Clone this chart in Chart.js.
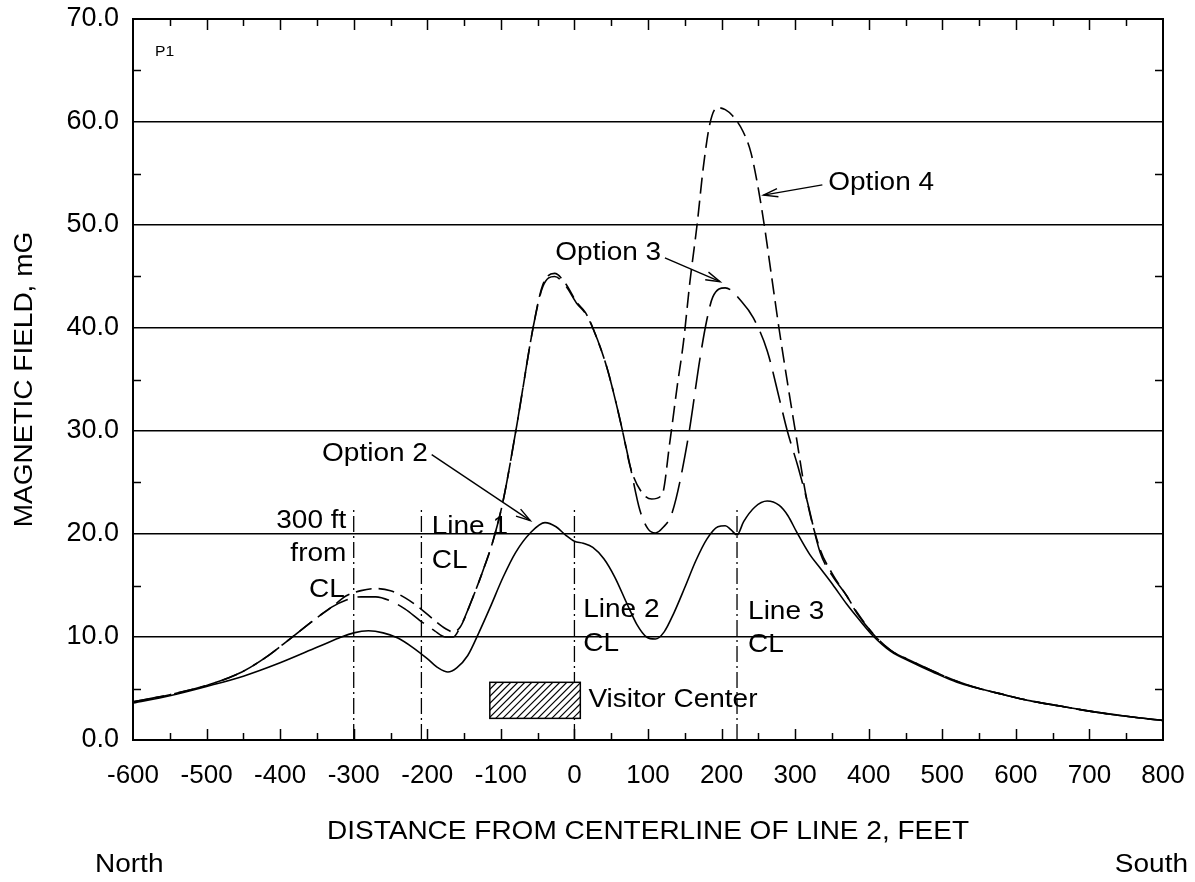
<!DOCTYPE html>
<html>
<head>
<meta charset="utf-8">
<title>Magnetic field profile P1</title>
<script src="https://cdn.jsdelivr.net/npm/chart.js@4.4.1/dist/chart.umd.min.js"></script>
<style>
  body { margin: 0; background: #fff; }
  #wrap { width: 1195px; height: 882px; position: relative; }
</style>
</head>
<body>
<div id="wrap"><canvas id="magChart"></canvas></div>
<script>
// distance from centerline of line 2 (ft) and field (mG)
const option2X = [-600, -550, -500, -450, -400, -350, -320, -300, -280, -260, -240, -220, -200, -185, -172, -160, -145, -130, -115, -97, -80, -60, -40, -25, -12, 0, 12, 25, 40, 55, 71, 85, 98, 110, 122, 135, 150, 165, 180, 195, 205, 213, 221, 230, 245, 262, 278, 290, 302, 320, 335, 351, 370, 388, 406, 430, 460, 487, 520, 550, 578, 620, 660, 700, 750, 800];
const option2Y = [3.6, 4.3, 5.2, 6.2, 7.5, 9.0, 9.9, 10.4, 10.6, 10.4, 9.9, 9.0, 7.9, 7.0, 6.6, 7.0, 8.2, 10.4, 12.8, 15.8, 18.2, 20.1, 21.1, 20.7, 19.9, 19.3, 19.1, 18.7, 17.6, 15.8, 13.3, 11.2, 10.0, 9.8, 10.5, 12.3, 14.8, 17.4, 19.5, 20.7, 20.8, 20.4, 19.9, 21.2, 22.6, 23.2, 22.8, 21.8, 20.2, 18.0, 16.6, 15.1, 13.2, 11.6, 10.1, 8.6, 7.5, 6.6, 5.6, 5.0, 4.5, 3.8, 3.3, 2.8, 2.3, 1.9];

const option3X = [-600, -550, -500, -455, -420, -387, -355, -330, -310, -290, -270, -250, -230, -210, -190, -175, -165, -155, -140, -124, -110, -97, -78, -56, -43, -27, -12, 3, 15, 25, 44, 58, 66, 76, 89, 100, 110, 120, 133, 154, 171, 180, 188, 205, 228, 243, 262, 279, 289, 304, 316, 334, 350, 370, 384, 406, 430, 460, 487, 520, 550, 578, 620, 660, 700, 750, 800];
const option3Y = [3.7, 4.4, 5.3, 6.5, 8.0, 9.8, 11.6, 12.9, 13.6, 13.9, 13.9, 13.5, 12.7, 11.6, 10.6, 10.0, 10.0, 11.0, 13.5, 16.5, 19.5, 23.2, 30.7, 40.1, 44.0, 45.0, 44.1, 42.4, 41.4, 40.0, 36.2, 32.3, 29.8, 26.5, 22.3, 20.5, 20.1, 20.6, 22.1, 29.1, 37.2, 40.8, 43.0, 43.9, 42.5, 41.0, 37.8, 33.0, 30.1, 26.5, 23.3, 18.2, 16.0, 14.0, 12.3, 10.3, 8.7, 7.6, 6.7, 5.7, 5.0, 4.5, 3.8, 3.3, 2.8, 2.3, 1.9];

const option4X = [-600, -550, -500, -455, -420, -387, -355, -330, -310, -290, -270, -250, -230, -210, -190, -175, -165, -155, -140, -124, -110, -97, -78, -56, -43, -27, -12, 3, 15, 25, 44, 58, 66, 76, 90, 105, 119, 130, 140, 148, 157, 167, 175, 184, 194, 205, 215, 229, 240, 250, 258, 268, 278, 290, 300, 316, 334, 350, 370, 384, 406, 430, 460, 487, 520, 550, 578, 620, 660, 700, 750, 800];
const option4Y = [3.7, 4.4, 5.3, 6.5, 8.0, 9.8, 11.6, 12.9, 14.0, 14.5, 14.7, 14.5, 13.8, 12.8, 11.6, 10.8, 10.5, 11.0, 13.5, 16.5, 19.5, 23.2, 30.7, 40.1, 44.2, 45.3, 44.3, 42.5, 41.5, 40.0, 36.2, 32.3, 29.8, 26.5, 24.2, 23.4, 23.8, 29.1, 34.5, 38.5, 44.5, 50.2, 55.5, 59.8, 61.4, 61.2, 60.6, 59.1, 57.0, 53.5, 50.0, 45.0, 40.0, 34.5, 30.1, 23.3, 18.5, 16.2, 14.0, 12.4, 10.3, 8.7, 7.6, 6.7, 5.7, 5.0, 4.5, 3.8, 3.3, 2.8, 2.3, 1.9];

// centerline markers (ft) and the height they reach (mG)
const centerlineX = [-300, -208, 0, 221];
const centerlineTop = 22.5;

// visitor center footprint
const visitorX = [-115, 8];
const visitorY = [2.1, 5.6];

const xTickLabels = ['-600', '-500', '-400', '-300', '-200', '-100', '0', '100', '200', '300', '400', '500', '600', '700', '800'];
const yTickLabels = ['0.0', '10.0', '20.0', '30.0', '40.0', '50.0', '60.0', '70.0'];

const FONT = '"Liberation Sans", Arial, sans-serif';
const STRETCH = 1.12; // original lettering is a bit wider than Liberation Sans

// text notes placed in data units
const notes = [
  { text: 'P1', x: -570, y: 66.8, size: 14 },
  { text: 'Option 2', x: -343, y: 27.8 },
  { text: 'Option 3', x: -26, y: 47.3 },
  { text: 'Option 4', x: 345, y: 54.1 },
  { text: '300 ft', x: -310, y: 21.3, align: 'right' },
  { text: 'from', x: -310, y: 18.0, align: 'right' },
  { text: 'CL', x: -312, y: 14.6, align: 'right' },
  { text: 'Line 1', x: -194, y: 20.7 },
  { text: 'CL', x: -194, y: 17.4 },
  { text: 'Line 2', x: 12, y: 12.6 },
  { text: 'CL', x: 12, y: 9.3 },
  { text: 'Line 3', x: 236, y: 12.4 },
  { text: 'CL', x: 236, y: 9.2 },
  { text: 'Visitor Center', x: 19, y: 3.9 }
];

const arrows = [
  { from: [-194, 27.7], to: [-60, 21.3] },
  { from: [123, 46.8], to: [198, 44.5] },
  { from: [337, 53.9], to: [257, 52.9] }
];

function toPoints(xs, ys) {
  return xs.map((x, i) => ({ x: x, y: ys[i] }));
}

function drawArrow(ctx, x1, y1, x2, y2) {
  const ang = Math.atan2(y2 - y1, x2 - x1);
  const len = 15, spread = 0.28;
  ctx.beginPath();
  ctx.moveTo(x1, y1);
  ctx.lineTo(x2, y2);
  ctx.stroke();
  ctx.beginPath();
  ctx.moveTo(x2 - len * Math.cos(ang - spread), y2 - len * Math.sin(ang - spread));
  ctx.lineTo(x2, y2);
  ctx.lineTo(x2 - len * Math.cos(ang + spread), y2 - len * Math.sin(ang + spread));
  ctx.stroke();
}

function drawText(ctx, text, x, y, align, rotate) {
  ctx.save();
  ctx.translate(x, y);
  if (rotate) ctx.rotate(rotate);
  ctx.scale(STRETCH, 1);
  ctx.textAlign = align || 'left';
  ctx.fillText(text, 0, 0);
  ctx.restore();
}

// drop the label overflow padding so layout.padding alone sets the plot edges
function noOverflow(scale) {
  scale.paddingTop = 0;
  scale.paddingBottom = 0;
  scale.paddingLeft = 0;
  scale.paddingRight = 0;
}

const decorPlugin = {
  id: 'decor',
  afterDatasetsDraw(chart) {
    const ctx = chart.ctx;
    const xs = chart.scales.x, ys = chart.scales.y;
    const area = chart.chartArea;
    ctx.save();
    ctx.strokeStyle = '#000';
    ctx.fillStyle = '#000';

    // visitor center box with hatching
    const bx1 = xs.getPixelForValue(visitorX[0]), bx2 = xs.getPixelForValue(visitorX[1]);
    const by1 = ys.getPixelForValue(visitorY[1]), by2 = ys.getPixelForValue(visitorY[0]);
    ctx.fillStyle = '#fff';
    ctx.fillRect(bx1, by1, bx2 - bx1, by2 - by1);
    ctx.save();
    ctx.beginPath();
    ctx.rect(bx1, by1, bx2 - bx1, by2 - by1);
    ctx.clip();
    ctx.lineWidth = 1.2;
    for (let s = bx1 - (by2 - by1); s < bx2 + 4; s += 7) {
      ctx.beginPath();
      ctx.moveTo(s, by2);
      ctx.lineTo(s + (by2 - by1), by1);
      ctx.stroke();
    }
    ctx.restore();
    ctx.lineWidth = 1.5;
    ctx.strokeRect(bx1, by1, bx2 - bx1, by2 - by1);

    // arrows
    ctx.lineWidth = 1.4;
    arrows.forEach(a => {
      drawArrow(ctx, xs.getPixelForValue(a.from[0]), ys.getPixelForValue(a.from[1]),
        xs.getPixelForValue(a.to[0]), ys.getPixelForValue(a.to[1]));
    });

    // notes
    ctx.fillStyle = '#000';
    ctx.textBaseline = 'middle';
    notes.forEach(n => {
      ctx.font = (n.size || 25) + 'px ' + FONT;
      drawText(ctx, n.text, xs.getPixelForValue(n.x), ys.getPixelForValue(n.y), n.align);
    });

    // inward tick marks on all four sides
    ctx.lineWidth = 1.5;
    ctx.beginPath();
    for (let v = -550; v < 800; v += 50) {
      const px = Math.round(xs.getPixelForValue(v)) + 0.5;
      const len = v % 100 === 0 ? 11 : 7;
      ctx.moveTo(px, area.bottom); ctx.lineTo(px, area.bottom - len);
      ctx.moveTo(px, area.top); ctx.lineTo(px, area.top + len);
    }
    for (let v = 5; v < 70; v += 10) {
      const py = Math.round(ys.getPixelForValue(v)) + 0.5;
      ctx.moveTo(area.left, py); ctx.lineTo(area.left + 8, py);
      ctx.moveTo(area.right, py); ctx.lineTo(area.right - 8, py);
    }
    ctx.stroke();

    // frame
    ctx.lineWidth = 2;
    ctx.strokeRect(area.left, area.top, area.right - area.left, area.bottom - area.top);

    // axis titles and direction words
    ctx.font = '25px ' + FONT;
    drawText(ctx, 'DISTANCE FROM CENTERLINE OF LINE 2, FEET', (area.left + area.right) / 2, 832, 'center');
    drawText(ctx, 'North', 95, 865, 'left');
    drawText(ctx, 'South', 1188, 865, 'right');
    drawText(ctx, 'MAGNETIC FIELD, mG', 25, (area.top + area.bottom) / 2, 'center', -Math.PI / 2);

    ctx.restore();
  }
};

const curveStyle = {
  borderColor: '#000',
  borderWidth: 1.6,
  pointRadius: 0,
  fill: false,
  cubicInterpolationMode: 'monotone'
};

const datasets = [
  Object.assign({ label: 'Option 2', data: toPoints(option2X, option2Y) }, curveStyle),
  Object.assign({ label: 'Option 3', data: toPoints(option3X, option3Y), borderDash: [32, 10] }, curveStyle),
  Object.assign({ label: 'Option 4', data: toPoints(option4X, option4Y), borderDash: [16, 7] }, curveStyle)
];

centerlineX.forEach(x => {
  datasets.push({
    label: 'CL',
    data: [{ x: x, y: 0 }, { x: x, y: centerlineTop }],
    borderColor: '#000',
    borderWidth: 1.3,
    borderDash: [16, 4, 2, 4],
    pointRadius: 0,
    fill: false
  });
});

new Chart(document.getElementById('magChart'), {
  type: 'line',
  data: { datasets: datasets },
  options: {
    responsive: true,
    maintainAspectRatio: false,
    animation: false,
    layout: { padding: { left: 0, top: 19, right: 32, bottom: 0 } },
    plugins: {
      legend: { display: false },
      tooltip: { enabled: false }
    },
    scales: {
      x: {
        type: 'linear',
        min: -600,
        max: 800,
        afterFit(scale) { scale.height = 142; noOverflow(scale); },
        grid: { display: false, drawTicks: false },
        border: { display: false },
        ticks: {
          stepSize: 100,
          padding: 20,
          color: '#000',
          font: { family: FONT, size: 26 },
          maxRotation: 0,
          autoSkip: false,
          callback: v => xTickLabels[Math.round((v + 600) / 100)]
        }
      },
      y: {
        type: 'linear',
        min: 0,
        max: 70,
        afterFit(scale) { scale.width = 133; noOverflow(scale); },
        grid: { color: '#000', lineWidth: 1.5, drawTicks: false },
        border: { display: false },
        ticks: {
          stepSize: 10,
          padding: 14,
          color: '#000',
          font: { family: FONT, size: 27 },
          callback: v => yTickLabels[Math.round(v / 10)]
        }
      }
    }
  },
  plugins: [decorPlugin]
});
</script>
</body>
</html>
